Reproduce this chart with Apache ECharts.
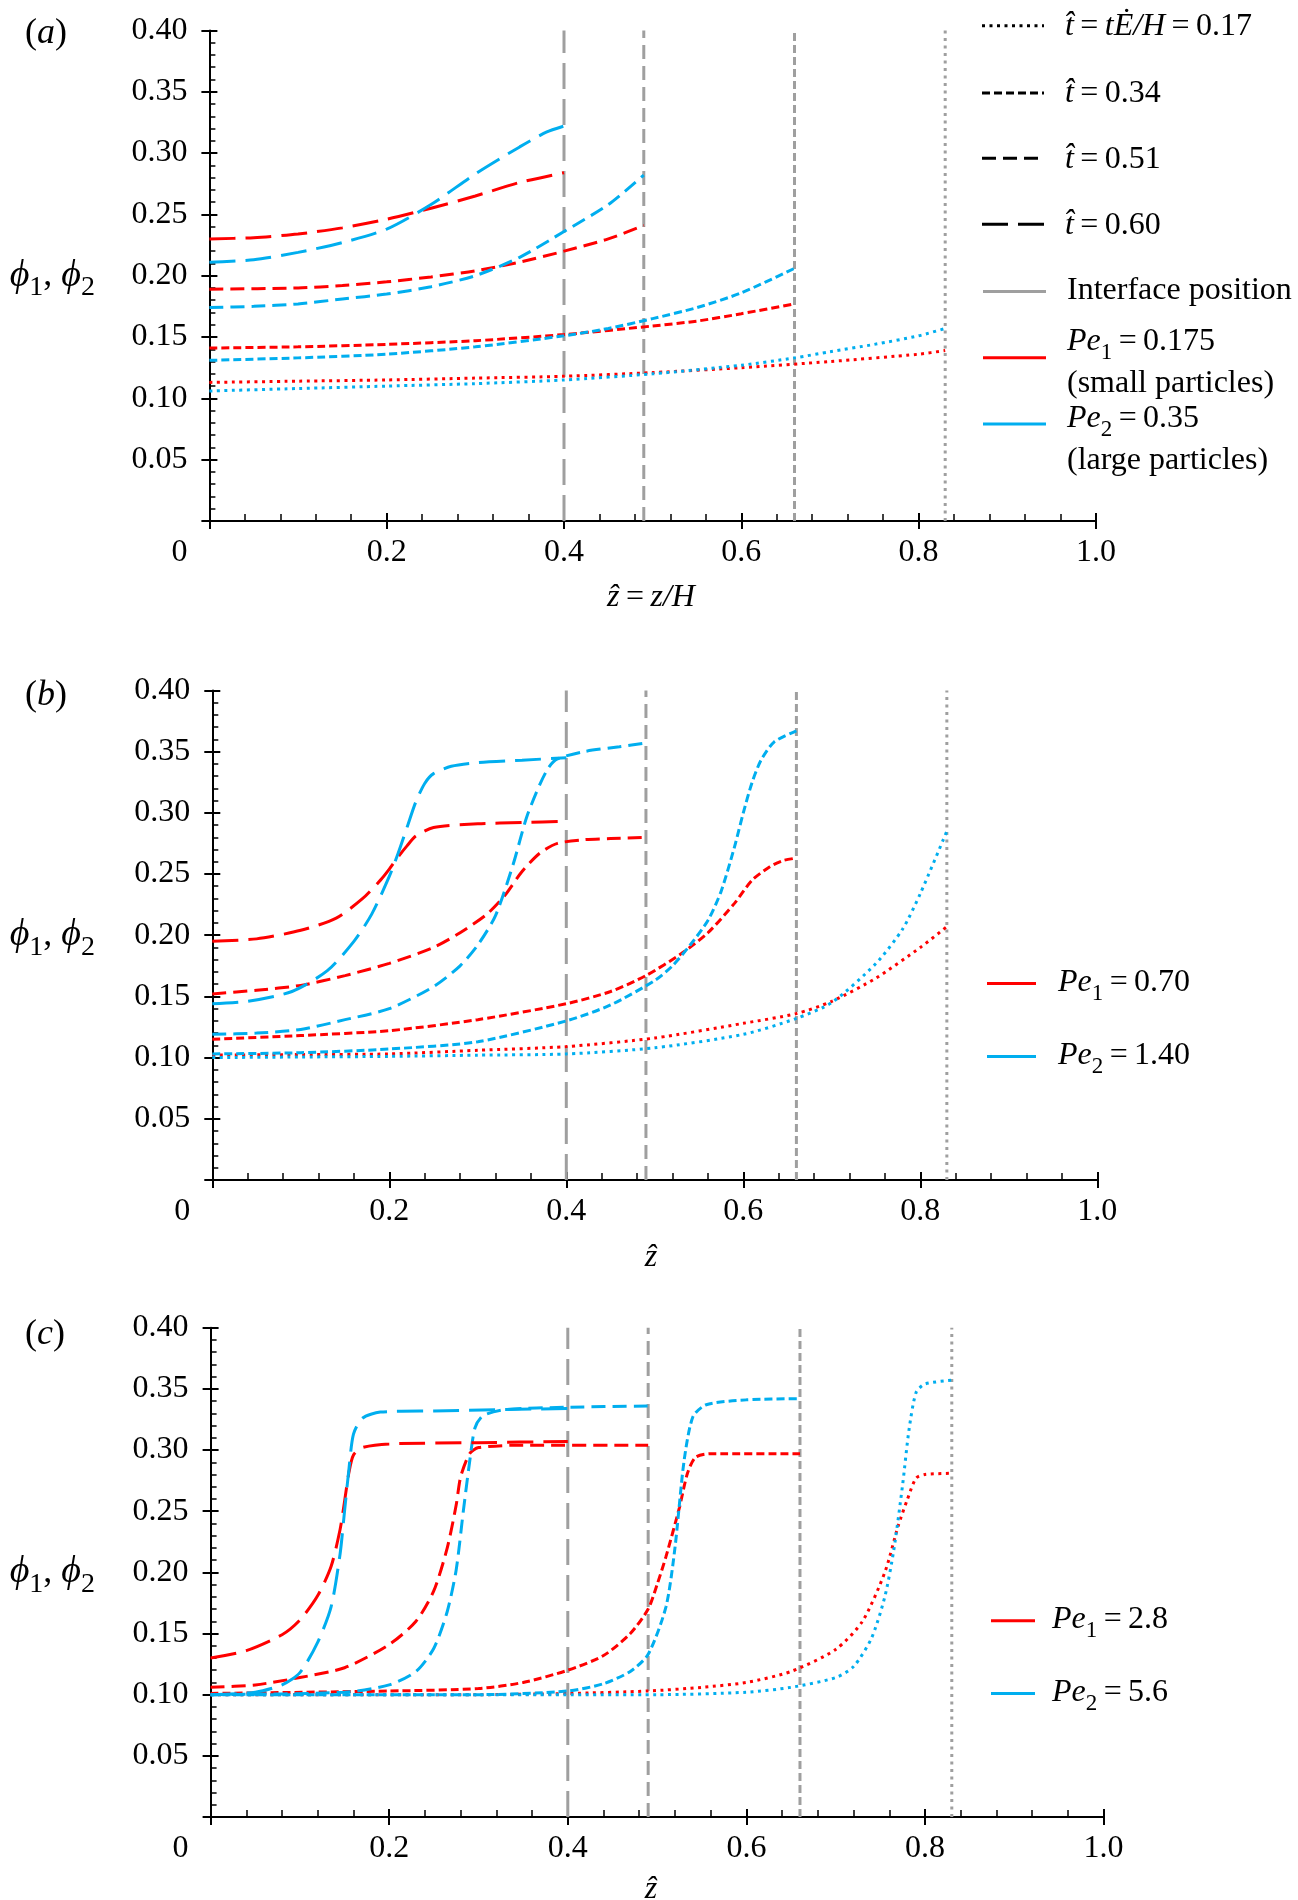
<!DOCTYPE html>
<html><head><meta charset="utf-8">
<script src="https://cdn.jsdelivr.net/npm/echarts@6.0.0/dist/echarts.min.js"></script>
<style>html,body{margin:0;padding:0;background:#fff}#chart{width:1298px;height:1900px}</style>
</head><body><div id="chart"></div>
<script>
// ---------- tick labels / categories ----------
const xTickLabels = ['0', '0.2', '0.4', '0.6', '0.8', '1.0'];
const yTickLabels = ['', '0.05', '0.10', '0.15', '0.20', '0.25', '0.30', '0.35', '0.40'];
const times = ['0.17', '0.34', '0.51', '0.60'];
const interfaceZ = [0.83, 0.66, 0.49, 0.40];
const peValues = [['0.175', '0.35'], ['0.70', '1.40'], ['2.8', '5.6']];
const panelLetters = ['a', 'b', 'c'];

// ---------- panel (a) ----------
const a_red_017 = [[0,0.113],[0.1,0.114],[0.2,0.115],[0.3,0.1165],[0.4,0.118],[0.5,0.121],[0.6,0.125],[0.7,0.130],[0.8,0.136],[0.83,0.139]];
const a_blue_017 = [[0,0.106],[0.1,0.108],[0.2,0.110],[0.3,0.112],[0.4,0.115],[0.5,0.120],[0.6,0.127],[0.66,0.133],[0.7,0.138],[0.75,0.144],[0.8,0.151],[0.83,0.157]];
const a_red_034 = [[0,0.141],[0.1,0.142],[0.2,0.144],[0.3,0.147],[0.4,0.152],[0.5,0.159],[0.55,0.163],[0.6,0.169],[0.66,0.177]];
const a_blue_034 = [[0,0.131],[0.1,0.133],[0.2,0.136],[0.3,0.142],[0.4,0.151],[0.45,0.157],[0.5,0.165],[0.55,0.174],[0.6,0.186],[0.66,0.206]];
const a_red_051 = [[0,0.189],[0.1,0.190],[0.15,0.192],[0.2,0.195],[0.25,0.199],[0.3,0.204],[0.35,0.211],[0.4,0.220],[0.45,0.230],[0.49,0.241]];
const a_blue_051 = [[0,0.174],[0.05,0.175],[0.1,0.177],[0.15,0.181],[0.2,0.185],[0.25,0.191],[0.3,0.200],[0.35,0.215],[0.4,0.236],[0.45,0.258],[0.49,0.282]];
const a_red_060 = [[0,0.230],[0.05,0.231],[0.1,0.234],[0.15,0.239],[0.2,0.246],[0.25,0.255],[0.3,0.265],[0.35,0.276],[0.4,0.284]];
const a_blue_060 = [[0,0.211],[0.05,0.213],[0.1,0.219],[0.15,0.227],[0.2,0.238],[0.25,0.258],[0.3,0.283],[0.35,0.305],[0.38,0.317],[0.4,0.322]];

// ---------- panel (b) ----------
const b_red_017 = [[0,0.102],[0.1,0.1025],[0.2,0.103],[0.3,0.106],[0.4,0.109],[0.5,0.116],[0.6,0.128],[0.66,0.136],[0.7,0.146],[0.75,0.165],[0.8,0.190],[0.83,0.207]];
const b_blue_017 = [[0,0.100],[0.1,0.1005],[0.2,0.101],[0.3,0.102],[0.4,0.103],[0.5,0.108],[0.6,0.119],[0.66,0.132],[0.7,0.145],[0.75,0.177],[0.78,0.205],[0.8,0.234],[0.83,0.285]];
const b_red_034 = [[0,0.115],[0.1,0.118],[0.2,0.122],[0.3,0.131],[0.4,0.144],[0.45,0.154],[0.49,0.167],[0.53,0.185],[0.56,0.202],[0.59,0.226],[0.61,0.245],[0.63,0.256],[0.645,0.261],[0.66,0.263]];
const b_blue_034 = [[0,0.103],[0.1,0.104],[0.2,0.107],[0.3,0.113],[0.4,0.130],[0.45,0.143],[0.5,0.163],[0.52,0.175],[0.54,0.192],[0.56,0.212],[0.575,0.236],[0.59,0.272],[0.6,0.300],[0.61,0.325],[0.62,0.343],[0.635,0.358],[0.66,0.367]];
const b_red_051 = [[0,0.152],[0.05,0.155],[0.1,0.159],[0.15,0.167],[0.2,0.177],[0.25,0.190],[0.28,0.202],[0.31,0.217],[0.33,0.232],[0.35,0.252],[0.37,0.267],[0.39,0.275],[0.42,0.278],[0.45,0.279],[0.49,0.280]];
const b_blue_051 = [[0,0.119],[0.05,0.120],[0.1,0.123],[0.15,0.131],[0.2,0.140],[0.25,0.158],[0.28,0.175],[0.3,0.192],[0.32,0.216],[0.34,0.258],[0.355,0.296],[0.37,0.323],[0.38,0.337],[0.39,0.344],[0.42,0.350],[0.46,0.354],[0.49,0.357]];
const b_red_060 = [[0,0.195],[0.05,0.197],[0.1,0.204],[0.14,0.214],[0.17,0.230],[0.19,0.245],[0.2,0.254],[0.21,0.264],[0.22,0.273],[0.23,0.281],[0.25,0.288],[0.3,0.291],[0.35,0.292],[0.4,0.293]];
const b_blue_060 = [[0,0.144],[0.04,0.146],[0.09,0.154],[0.13,0.171],[0.16,0.195],[0.18,0.217],[0.2,0.248],[0.21,0.267],[0.22,0.288],[0.23,0.309],[0.24,0.324],[0.25,0.332],[0.27,0.338],[0.3,0.341],[0.35,0.343],[0.4,0.345]];

// ---------- panel (c) ----------
const c_red_017 = [[0,0.100],[0.3,0.100],[0.4,0.101],[0.49,0.103],[0.55,0.106],[0.6,0.110],[0.65,0.119],[0.7,0.137],[0.73,0.160],[0.755,0.200],[0.77,0.238],[0.78,0.259],[0.79,0.277],[0.8,0.280],[0.83,0.281]];
const c_blue_017 = [[0,0.100],[0.5,0.100],[0.6,0.102],[0.65,0.106],[0.7,0.114],[0.72,0.123],[0.74,0.146],[0.755,0.180],[0.765,0.218],[0.775,0.272],[0.782,0.316],[0.79,0.347],[0.8,0.354],[0.83,0.357]];
const c_red_034 = [[0,0.101],[0.2,0.103],[0.3,0.105],[0.35,0.110],[0.4,0.120],[0.44,0.132],[0.47,0.150],[0.49,0.170],[0.5,0.190],[0.51,0.213],[0.525,0.253],[0.534,0.281],[0.543,0.294],[0.56,0.297],[0.66,0.297]];
const c_blue_034 = [[0,0.100],[0.3,0.100],[0.4,0.103],[0.44,0.109],[0.47,0.119],[0.49,0.133],[0.51,0.172],[0.52,0.220],[0.53,0.290],[0.54,0.327],[0.555,0.337],[0.6,0.341],[0.66,0.342]];
const c_red_051 = [[0,0.106],[0.05,0.108],[0.1,0.114],[0.15,0.122],[0.2,0.141],[0.23,0.160],[0.25,0.185],[0.265,0.220],[0.275,0.255],[0.28,0.278],[0.29,0.297],[0.3,0.302],[0.35,0.304],[0.49,0.304]];
const c_blue_051 = [[0,0.100],[0.15,0.102],[0.2,0.108],[0.23,0.119],[0.25,0.138],[0.265,0.168],[0.275,0.202],[0.283,0.250],[0.29,0.290],[0.296,0.318],[0.305,0.328],[0.33,0.333],[0.4,0.335],[0.49,0.336]];
const c_red_060 = [[0,0.130],[0.04,0.136],[0.08,0.149],[0.1,0.161],[0.12,0.181],[0.135,0.205],[0.145,0.235],[0.15,0.258],[0.155,0.282],[0.16,0.296],[0.17,0.302],[0.2,0.305],[0.3,0.306],[0.4,0.307]];
const c_blue_060 = [[0,0.100],[0.05,0.102],[0.08,0.108],[0.1,0.118],[0.12,0.143],[0.135,0.172],[0.145,0.215],[0.15,0.250],[0.155,0.285],[0.16,0.313],[0.17,0.326],[0.19,0.331],[0.25,0.332],[0.4,0.334]];

// ---------- assembly ----------
const panels = [
  { red: [a_red_017, a_red_034, a_red_051, a_red_060], blue: [a_blue_017, a_blue_034, a_blue_051, a_blue_060] },
  { red: [b_red_017, b_red_034, b_red_051, b_red_060], blue: [b_blue_017, b_blue_034, b_blue_051, b_blue_060] },
  { red: [c_red_017, c_red_034, c_red_051, c_red_060], blue: [c_blue_017, c_blue_034, c_blue_051, c_blue_060] }
];
const X_MIN = 0, X_MAX = 1, X_INT = 0.2;
const Y_MIN = 0, Y_MAX = 0.4, Y_INT = 0.05;

const FONT = "'Liberation Serif','Times New Roman','DejaVu Serif',serif";
const RED = '#ff0000', BLUE = '#00aeef', GRAY = '#9f9f9f', BLACK = '#000';
const DASH = [[3, 4.5], [8, 4], [14, 7], [26, 10]];
const grids = [
  { left: 209.4, top: 30.4, width: 886.5, height: 490.6 },
  { left: 212.3, top: 690.4, width: 885, height: 489.6 },
  { left: 210.6, top: 1327.7, width: 893, height: 489.3 }
];

const xAxis = [], yAxis = [], series = [];
grids.forEach((g, p) => {
  const tickStyle = { color: BLACK, width: 2 };
  xAxis.push({
    gridIndex: p, type: 'value', min: X_MIN, max: X_MAX, interval: X_INT, position: 'bottom',
    axisLine: { show: true, onZero: false, lineStyle: { color: BLACK, width: 2 } },
    axisTick: { show: true, inside: true, length: 8, lineStyle: tickStyle },
    minorTick: { show: true, splitNumber: 5, length: 7, lineStyle: { color: BLACK, width: 1.5 } },
    splitLine: { show: false }, minorSplitLine: { show: false },
    axisLabel: {
      margin: 16, fontSize: 32, fontFamily: FONT, color: BLACK,
      formatter: v => { const i = Math.round(v / X_INT); return i === 0 ? '{z|' + xTickLabels[0] + '}' : xTickLabels[i]; },
      rich: { z: { padding: [0, 60, 0, 0], fontSize: 32, fontFamily: FONT, color: BLACK } }
    }
  });
  xAxis.push({
    gridIndex: p, type: 'value', min: X_MIN, max: X_MAX, interval: X_INT, position: 'bottom',
    axisLine: { show: false }, axisTick: { show: true, inside: false, length: 8, lineStyle: tickStyle },
    axisLabel: { show: false }, splitLine: { show: false }
  });
  yAxis.push({
    gridIndex: p, type: 'value', min: Y_MIN, max: Y_MAX, interval: Y_INT, position: 'left',
    axisLine: { show: true, onZero: false, lineStyle: { color: BLACK, width: 2 } },
    axisTick: { show: true, inside: true, length: 8, lineStyle: tickStyle },
    minorTick: { show: true, splitNumber: 5, length: 6, lineStyle: { color: BLACK, width: 1.5 } },
    splitLine: { show: false }, minorSplitLine: { show: false },
    axisLabel: { margin: 22, fontSize: 32, fontFamily: FONT, color: BLACK,
      formatter: v => yTickLabels[Math.round(v / Y_INT)] }
  });
  yAxis.push({
    gridIndex: p, type: 'value', min: Y_MIN, max: Y_MAX, interval: Y_INT, position: 'left',
    axisLine: { show: false }, axisTick: { show: true, inside: false, length: 8, lineStyle: tickStyle },
    axisLabel: { show: false }, splitLine: { show: false }
  });
  const panel = panels[p];
  for (let k = 0; k < 4; k++) {
    series.push({
      type: 'line', xAxisIndex: 2 * p, yAxisIndex: 2 * p, silent: true, showSymbol: false, z: 1,
      data: [[interfaceZ[k], Y_MIN], [interfaceZ[k], Y_MAX]],
      lineStyle: { color: GRAY, width: 3, type: DASH[k] }
    });
  }
  for (let k = 0; k < 4; k++) {
    [['red', RED], ['blue', BLUE]].forEach(([key, col]) => {
      series.push({
        type: 'line', xAxisIndex: 2 * p, yAxisIndex: 2 * p, silent: true, showSymbol: false, z: 2,
        smooth: 0.25, data: panel[key][k],
        lineStyle: { color: col, width: 3, type: DASH[k] }
      });
    });
  }
});

// ---------- text / legend graphics ----------
const RICH = {
  n: { fontSize: 32, fontFamily: FONT, fill: BLACK },
  i: { fontSize: 32, fontFamily: FONT, fontStyle: 'italic', fill: BLACK },
  s: { fontSize: 23, fontFamily: FONT, fill: BLACK, padding: [22, 0, 0, 0] },
  L: { fontSize: 36, fontFamily: FONT, fill: BLACK },
  Li: { fontSize: 36, fontFamily: FONT, fontStyle: 'italic', fill: BLACK },
  P: { fontSize: 38, fontFamily: FONT, fontStyle: 'italic', fill: BLACK },
  Ps: { fontSize: 28, fontFamily: FONT, fill: BLACK, padding: [24, 0, 0, 0] },
  Pn: { fontSize: 36, fontFamily: FONT, fill: BLACK }
};
const EQ = '\u2009=\u2009';
function txt(x, y, text, align) {
  return { type: 'text', x: x, y: y, silent: true,
    style: { text: text, rich: RICH, fontSize: 32, fontFamily: FONT, fill: BLACK, align: align || 'left', verticalAlign: 'middle' } };
}
function seg(x1, x2, y, color, dash) {
  return { type: 'line', silent: true, shape: { x1: x1, y1: y, x2: x2, y2: y },
    style: { stroke: color, lineWidth: 3, lineDash: dash || null } };
}
const graphic = [];
// panel letters & axis names
const letterY = [33.6, 695.6, 1334.7];
const nameY = [276, 935.5, 1572.3];
const xNameY = [598, 1258, 1890];
panelLetters.forEach((L, p) => {
  graphic.push(txt(25, letterY[p], '{L|(}{Li|' + L + '}{L|)}'));
  graphic.push(txt(95, nameY[p], '{P|\u03D5}{Ps|1}{Pn|, }{P|\u03D5}{Ps|2}', 'right'));
  graphic.push(txt(651, xNameY[p], p === 0 ? '{i|\u1E91}{n|' + EQ + '}{i|z/H}' : '{i|\u1E91}', 'center'));
});
// legend (a)
const legA = [25.7, 93, 158.2, 224.2];
times.forEach((t, k) => {
  graphic.push(seg(982, 1044, legA[k], BLACK, DASH[k]));
  const label = k === 0 ? '{i|t\u0302}{n|' + EQ + '}{i|t\u0116/H}{n|' + EQ + t + '}' : '{i|t\u0302}{n|' + EQ + t + '}';
  graphic.push(txt(1065, legA[k] + 1, label));
});
graphic.push(seg(983, 1046, 291.4, GRAY));
graphic.push(txt(1067, 290.5, '{n|Interface position}'));
graphic.push(seg(983, 1046, 357.8, RED));
graphic.push(txt(1067, 342, '{i|Pe}{s|1}{n|' + EQ + peValues[0][0] + '}'));
graphic.push(txt(1067, 383.5, '{n|(small particles)}'));
graphic.push(seg(983, 1046, 423.9, BLUE));
graphic.push(txt(1067, 418.5, '{i|Pe}{s|2}{n|' + EQ + peValues[0][1] + '}'));
graphic.push(txt(1067, 460.5, '{n|(large particles)}'));
// legend (b)
graphic.push(seg(987, 1036, 983.4, RED));
graphic.push(txt(1058, 983, '{i|Pe}{s|1}{n|' + EQ + peValues[1][0] + '}'));
graphic.push(seg(987, 1036, 1056.6, BLUE));
graphic.push(txt(1058, 1056, '{i|Pe}{s|2}{n|' + EQ + peValues[1][1] + '}'));
// legend (c)
graphic.push(seg(991, 1035, 1620.7, RED));
graphic.push(txt(1052, 1620, '{i|Pe}{s|1}{n|' + EQ + peValues[2][0] + '}'));
graphic.push(seg(991, 1035, 1693.5, BLUE));
graphic.push(txt(1052, 1693, '{i|Pe}{s|2}{n|' + EQ + peValues[2][1] + '}'));

const chart = echarts.init(document.getElementById('chart'), null, { renderer: 'canvas' });
chart.setOption({
  backgroundColor: '#ffffff',
  animation: false,
  grid: grids,
  xAxis: xAxis,
  yAxis: yAxis,
  series: series,
  graphic: graphic
});
</script>
</body></html>
